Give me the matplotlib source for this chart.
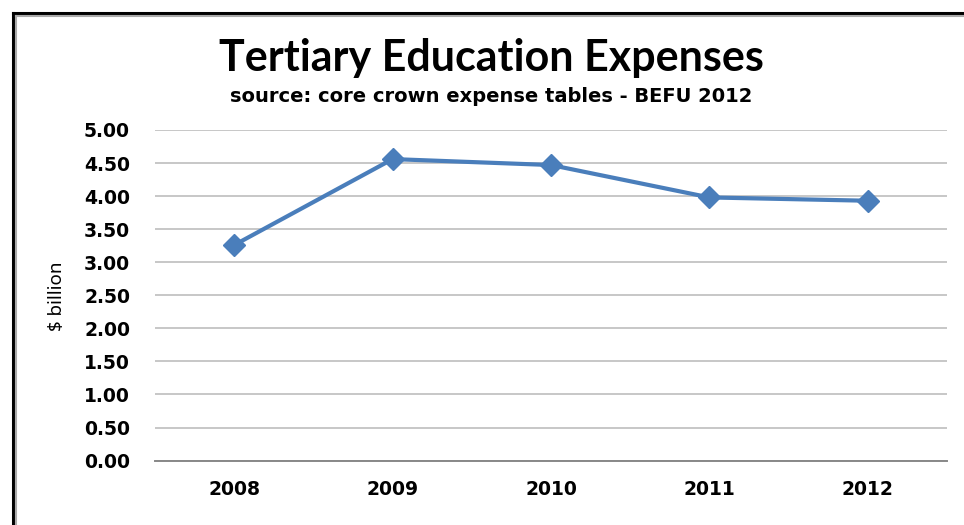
import matplotlib.pyplot as plt
from matplotlib.lines import Line2D

# 高等教育支出 (单位: 十亿美元)
years = ['2008', '2009', '2010', '2011', '2012']
expenses = [3.26, 4.56, 4.47, 3.98, 3.93]
y_ticks = [0.0, 0.5, 1.0, 1.5, 2.0, 2.5, 3.0, 3.5, 4.0, 4.5, 5.0]

plt.rcParams['font.family'] = ['DejaVu Sans']

fig = plt.figure(figsize=(9.64, 5.25), dpi=100)
ax = fig.add_axes([0.1608, 0.1227, 0.8216, 0.6297])

x = list(range(len(years)))
ax.plot(x, expenses, '-D', color='#4a7ebb', linewidth=3,
        markersize=11, markerfacecolor='#4a7ebb', markeredgecolor='#4a7ebb', zorder=3)

ax.set_xlim(-0.5, len(years) - 0.5)
ax.set_ylim(0, 5)
ax.set_yticks(y_ticks)
ax.set_yticklabels(['%.2f' % v for v in y_ticks], fontsize=13.5, fontweight='bold')
ax.set_xticks(x)
ax.set_xticklabels(years, fontsize=13.5, fontweight='bold')
ax.tick_params(axis='y', length=0, pad=18)
ax.tick_params(axis='x', length=0, pad=14)
ax.grid(axis='y', color='#bdbdbd', linewidth=1.2)
ax.set_axisbelow(True)
for s in ['top', 'right', 'left']:
    ax.spines[s].set_visible(False)
ax.spines['bottom'].set_color('#888888')
ax.spines['bottom'].set_linewidth(1.4)

# 纵轴标题
fig.text(57 / 964, 1 - 296 / 525, '$ billion', rotation=90, ha='center', va='center',
         fontsize=13.5, family='Noto Sans')

fig.text(491 / 964, 1 - 58 / 525, 'Tertiary Education Expenses', ha='center', va='center',
         fontsize=31, fontweight='bold', family='Lato')
fig.text(491 / 964, 1 - 97 / 525, 'source: core crown expense tables - BEFU 2012', ha='center',
         va='center', fontsize=14, fontweight='bold')

# 外框: 左边和上边 (右、下超出画布)
W, H = 964.0, 525.0
fig.add_artist(Line2D([13 / W, 13 / W], [0, 1 - 13 / H], color='black', linewidth=2.2,
                      transform=fig.transFigure))
fig.add_artist(Line2D([13 / W, 1], [1 - 13 / H, 1 - 13 / H], color='black', linewidth=2.2,
                      transform=fig.transFigure))
fig.add_artist(Line2D([16 / W, 16 / W], [0, 1 - 16 / H], color='#aaaaaa', linewidth=1.5,
                      transform=fig.transFigure))
fig.add_artist(Line2D([16 / W, 1], [1 - 16 / H, 1 - 16 / H], color='#aaaaaa', linewidth=1.5,
                      transform=fig.transFigure))

plt.savefig('out.png', dpi=100)
